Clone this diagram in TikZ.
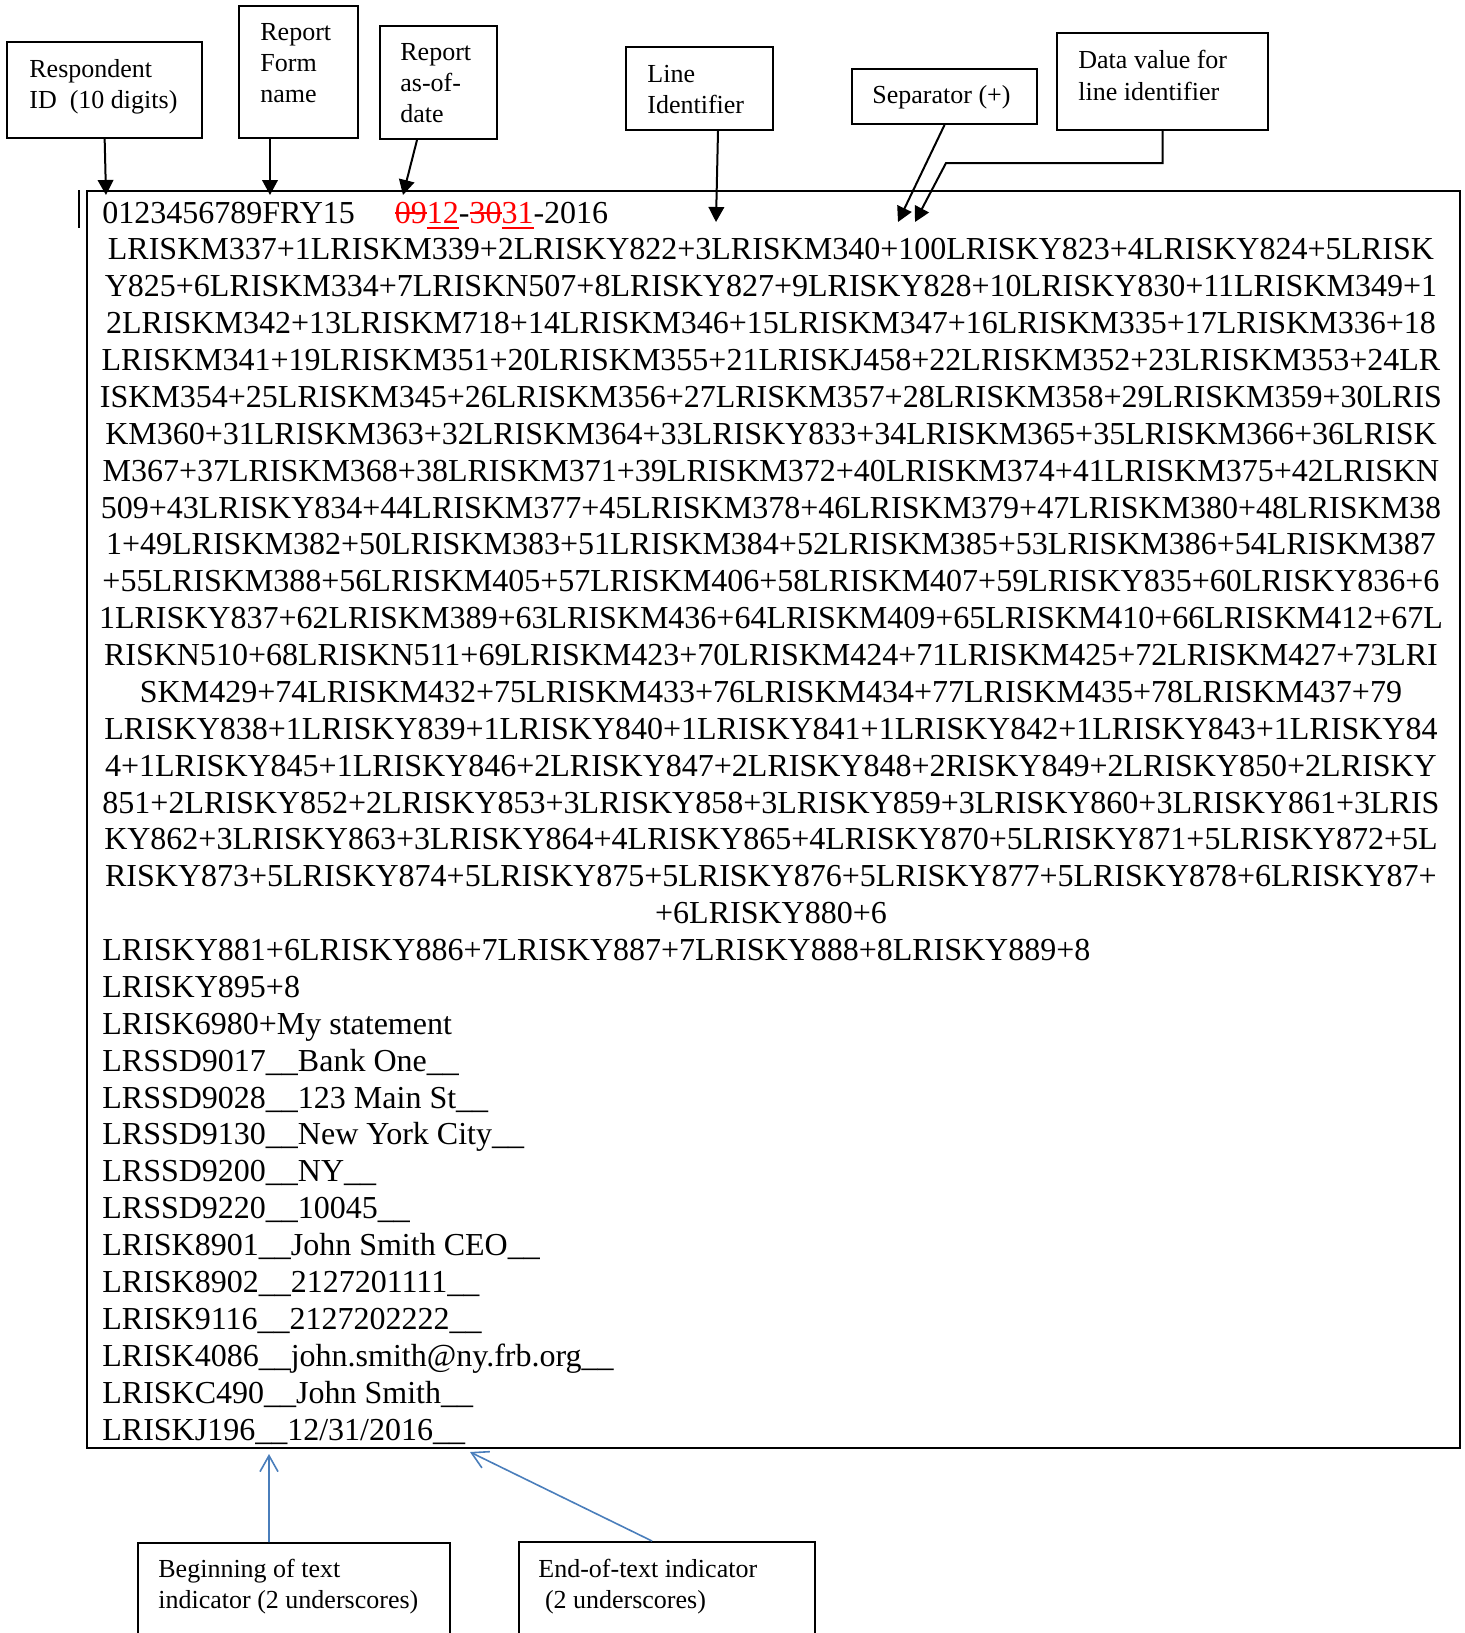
\documentclass[tikz,border=0pt]{standalone}
\usepackage{fontspec}
\setmainfont{Liberation Serif}
\usetikzlibrary{arrows.meta,positioning,fit}

\definecolor{callblue}{RGB}{74,126,187}
\newsavebox\markbox
\newcommand{\redout}[1]{\sbox\markbox{#1}\textcolor{red}{\rlap{\rule[0.28em]{\wd\markbox}{0.06em}}#1}}
\newcommand{\redin}[1]{\sbox\markbox{#1}\textcolor{red}{\rlap{\rule[-0.2em]{\wd\markbox}{0.06em}}#1}}

\tikzset{
  callbox/.style={draw, line width=1pt, inner sep=0pt},
  calltext/.style={anchor=base west, align=left, inner sep=0pt, font=\fontsize{13}{15.5}\selectfont},
  codetext/.style={inner sep=0pt, font=\fontsize{16}{18.44}\selectfont},
  callarrow/.style={line width=1pt, -{Triangle[length=7.5pt,width=7.8pt]}},
  backarrow/.style={callblue, line width=0.8pt, -{Straight Barb[length=8pt,width=9pt]}}
}

\begin{document}
\begin{tikzpicture}[x=5pt,y=5pt]
  \useasboundingbox (0,0) rectangle (146.4,-163.3);
  % callout boxes on top (texts anchored at their last baseline)
  \node[callbox, fit={(0.73,-4.17) (20.2,-13.77)}] (rid) {};
  \node[callbox, fit={(23.9,-0.57) (35.8,-13.77)}] (rfn) {};
  \node[callbox, fit={(38.0,-2.57) (49.7,-13.9)}] (rdt) {};
  \node[callbox, fit={(62.6,-4.7) (77.3,-13.0)}] (lid) {};
  \node[callbox, fit={(85.2,-6.9) (103.7,-12.4)}] (sep) {};
  \node[callbox, fit={(105.7,-3.3) (126.8,-13.0)}] (dval) {};
  \node[calltext] (ridtxt) at (2.9,-10.8) {Respondent\\ID\ \ (10 digits)};
  \node[calltext] (rfntxt) at (26.0,-10.2) {Report\\Form\\name};
  \node[calltext] (rdttxt) at (40.0,-12.2) {Report\\as-of-\\date};
  \node[calltext] (lidtxt) at (64.7,-11.3) {Line\\Identifier};
  \node[calltext] (septxt) at (87.2,-10.3) {Separator (+)};
  \node[calltext, font=\fontsize{13}{16}\selectfont] (dvaltxt) at (107.8,-10.0) {Data value for\\line identifier};

  % the file itself
  \node[callbox, fit={(8.7,-19.1) (146.0,-144.8)}] (frame) {};
  \draw[line width=1pt] (7.9,-19.0) -- (7.9,-22.8);
  \node[codetext, anchor=base west] (hdr) at (10.2,-22.3)
    {0123456789FRY15\hspace{20pt}\redout{09}\redin{12}-\redout{30}\redin{31}-2016};
  \node[codetext, anchor=base, align=center] (codes) at (77.1,-92.37) {%
    LRISKM337+1LRISKM339+2LRISKY822+3LRISKM340+100LRISKY823+4LRISKY824+5LRISK\\
    Y825+6LRISKM334+7LRISKN507+8LRISKY827+9LRISKY828+10LRISKY830+11LRISKM349+1\\
    2LRISKM342+13LRISKM718+14LRISKM346+15LRISKM347+16LRISKM335+17LRISKM336+18\\
    LRISKM341+19LRISKM351+20LRISKM355+21LRISKJ458+22LRISKM352+23LRISKM353+24LR\\
    ISKM354+25LRISKM345+26LRISKM356+27LRISKM357+28LRISKM358+29LRISKM359+30LRIS\\
    KM360+31LRISKM363+32LRISKM364+33LRISKY833+34LRISKM365+35LRISKM366+36LRISK\\
    M367+37LRISKM368+38LRISKM371+39LRISKM372+40LRISKM374+41LRISKM375+42LRISKN\\
    509+43LRISKY834+44LRISKM377+45LRISKM378+46LRISKM379+47LRISKM380+48LRISKM38\\
    1+49LRISKM382+50LRISKM383+51LRISKM384+52LRISKM385+53LRISKM386+54LRISKM387\\
    +55LRISKM388+56LRISKM405+57LRISKM406+58LRISKM407+59LRISKY835+60LRISKY836+6\\
    1LRISKY837+62LRISKM389+63LRISKM436+64LRISKM409+65LRISKM410+66LRISKM412+67L\\
    RISKN510+68LRISKN511+69LRISKM423+70LRISKM424+71LRISKM425+72LRISKM427+73LRI\\
    SKM429+74LRISKM432+75LRISKM433+76LRISKM434+77LRISKM435+78LRISKM437+79\\
    LRISKY838+1LRISKY839+1LRISKY840+1LRISKY841+1LRISKY842+1LRISKY843+1LRISKY84\\
    4+1LRISKY845+1LRISKY846+2LRISKY847+2LRISKY848+2RISKY849+2LRISKY850+2LRISKY\\
    851+2LRISKY852+2LRISKY853+3LRISKY858+3LRISKY859+3LRISKY860+3LRISKY861+3LRIS\\
    KY862+3LRISKY863+3LRISKY864+4LRISKY865+4LRISKY870+5LRISKY871+5LRISKY872+5L\\
    RISKY873+5LRISKY874+5LRISKY875+5LRISKY876+5LRISKY877+5LRISKY878+6LRISKY87+\\
    +6LRISKY880+6};
  \node[codetext, anchor=base west, align=left] (texts) at (10.2,-144.0) {%
    LRISKY881+6LRISKY886+7LRISKY887+7LRISKY888+8LRISKY889+8\\
    LRISKY895+8\\
    LRISK6980+My statement\\
    LRSSD9017\_\_Bank One\_\_\\
    LRSSD9028\_\_123 Main St\_\_\\
    LRSSD9130\_\_New York City\_\_\\
    LRSSD9200\_\_NY\_\_\\
    LRSSD9220\_\_10045\_\_\\
    LRISK8901\_\_John Smith CEO\_\_\\
    LRISK8902\_\_2127201111\_\_\\
    LRISK9116\_\_2127202222\_\_\\
    LRISK4086\_\_john.smith@ny.frb.org\_\_\\
    LRISKC490\_\_John Smith\_\_\\
    LRISKJ196\_\_12/31/2016\_\_};

  % arrow ends
  \coordinate (t1) at (10.6,-19.5);
  \coordinate (t2) at (27.0,-19.5);
  \coordinate (t3) at (40.3,-19.5);
  \coordinate (t4) at (71.6,-22.2);
  \coordinate (t5) at (89.8,-22.2);
  \coordinate (t6) at (91.5,-22.2);
  \coordinate (bend) at (94.6,-16.3);
  \draw[callarrow] (rid.south) -- (t1);
  \draw[callarrow] (t2 |- rfn.south) -- (t2);
  \draw[callarrow] ([xshift=-10.75pt]rdt.south) -- (t3);
  \draw[callarrow] ([xshift=9.25pt]lid.south) -- (t4);
  \draw[callarrow] (sep.south) -- (t5);
  \draw[callarrow] (dval.south) |- (bend) -- (t6);

  % callout boxes below
  \node[callbox, fit={(13.8,-154.3) (45.0,-166)}] (bot) {};
  \node[callbox, fit={(51.9,-154.2) (81.5,-166)}] (eot) {};
  \node[calltext] (bottxt) at (15.8,-160.8) {Beginning of text\\indicator (2 underscores)};
  \node[calltext] (eottxt) at (53.8,-160.8) {End-of-text indicator\\\hspace*{3.3pt}(2 underscores)};
  \coordinate (b1) at (26.9,-145.4);
  \coordinate (b2) at (47.0,-145.2);
  \draw[backarrow] ([xshift=-12.5pt]bot.north) -- (b1);
  \draw[backarrow] ([xshift=-7.5pt]eot.north) -- (b2);
\end{tikzpicture}
\end{document}
